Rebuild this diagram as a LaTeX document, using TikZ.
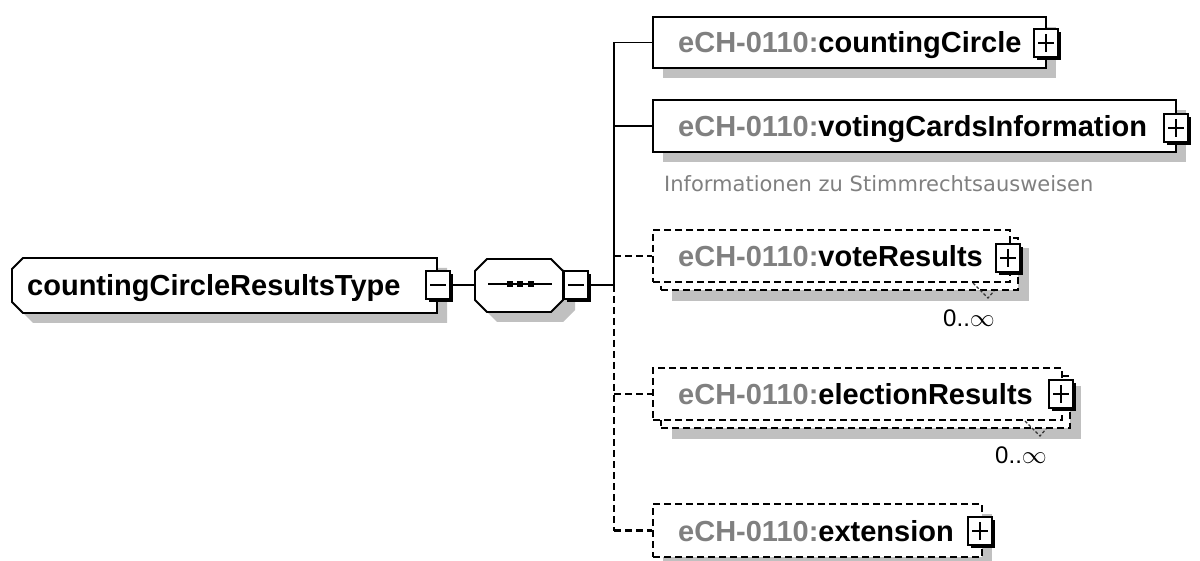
\documentclass[tikz,border=0pt]{standalone}
\usepackage{fontspec}
\setmainfont{Liberation Sans}
\newfontfamily\descfont{DejaVu Sans}
\definecolor{shadowgray}{RGB}{192,192,192}
\definecolor{prefixgray}{RGB}{128,128,128}
\definecolor{desccol}{RGB}{128,128,128}
\newcommand\xpbox[4]{%
  \fill[black] ({#2-12+3},{#3-14+3}) rectangle ({#2+12+3},{#3+14+3});
  \node[xb] (#1) at (#2,#3) {};
  \draw[xsign] ({#2-8},#3) -- ({#2+8},#3);
  \ifnum#4=1 \draw[xsign] (#2,{#3-9}) -- (#2,{#3+9});\fi
}
\begin{document}
\begin{tikzpicture}[x=1pt,y=-1pt,
  shad/.style={fill=shadowgray,draw=none},
  elem/.style={draw=black,line width=1.8pt,fill=white,rectangle,inner sep=0pt},
  optelem/.style={elem,line width=2.1pt,dash pattern=on 7pt off 4pt},
  conn/.style={draw=black,line width=1.8pt,line join=miter},
  optconn/.style={conn,line width=2.1pt,dash pattern=on 7pt off 4pt},
  xb/.style={draw=black,line width=1.6pt,fill=white,rectangle,minimum width=24pt,minimum height=28pt,inner sep=0pt},
  xsign/.style={draw=black,line width=1.5pt},
  lab/.style={anchor=base west,inner sep=0pt,font=\fontsize{29}{29}\selectfont\bfseries,text=black},
  occ/.style={anchor=base east,inner sep=0pt,font=\fontsize{24}{24}\selectfont,text=black},
  desc/.style={anchor=base west,inner sep=0pt,font=\descfont\fontsize{21}{21}\selectfont,text=desccol},
  notch/.style={draw=black!80,line width=1.2pt,dash pattern=on 3pt off 2pt}
]
\useasboundingbox (0,0) rectangle (1200,561);
\fill[white] (0,0) rectangle (1200,561);

% ---------- root element ----------
\fill[shad] (33,268) -- (447,268) -- (447,323) -- (33,323) -- (22,312) -- (22,279) -- cycle;
\draw[line width=1.8pt,fill=white] (23,258) -- (437,258) -- (437,313) -- (23,313) -- (12,302) -- (12,269) -- cycle;
\node[lab] (root) at (27,296) {countingCircleResultsType};
\xpbox{rootm}{438}{285}{0}

% ---------- sequence compositor ----------
\fill[shad] (497,269) -- (563,269) -- (575,281) -- (575,310) -- (563,322) -- (497,322) -- (485,310) -- (485,281) -- cycle;
\draw[line width=1.8pt,fill=white] (487,259) -- (551,259) -- (563,271) -- (563,300) -- (551,312) -- (487,312) -- (475,300) -- (475,271) -- cycle;
\coordinate (seqw) at (475,285);
\draw[line width=1.6pt] (488,284) -- (552,284);
\fill[black] (507,281) rectangle (513,287);
\fill[black] (517,281) rectangle (523,287);
\fill[black] (528,281) rectangle (534,287);
\xpbox{seqm}{576}{285}{0}
\draw[conn] (rootm.east) -- (seqw);

% ---------- trunk ----------
\coordinate (trunk) at (614,285);
\coordinate (t1) at (614,42.5);
\coordinate (t2) at (614,126);
\coordinate (t3) at (614,256);
\coordinate (t4) at (614,394);
\coordinate (t5) at (614,530.5);
\draw[conn] (seqm.east) -- (trunk);
\draw[optconn] (trunk) -- (t5);

% ---------- countingCircle ----------
\fill[shad] (663,27) rectangle (1056,78);
\node[elem,minimum width=393pt,minimum height=51pt] (cc) at (849.5,42.5) {};
\node[lab] (cclab) at (678,53) {\textcolor{prefixgray}{eCH-0110:}countingCircle};
\xpbox{ccx}{1046}{43}{1}
\draw[conn] (cc.west) -- (t1) -- (trunk);

% ---------- votingCardsInformation ----------
\fill[shad] (663,110) rectangle (1186,162);
\node[elem,minimum width=523pt,minimum height=52pt] (vci) at (914.5,126) {};
\node[lab] (vcilab) at (678,136.5) {\textcolor{prefixgray}{eCH-0110:}votingCardsInformation};
\xpbox{vcix}{1176}{128}{1}
\draw[conn] (t2) -- (vci.west);
\node[desc] (vcidesc) at (664,192) {Informationen zu Stimmrechtsausweisen};

% ---------- voteResults ----------
\fill[shad] (672,248) rectangle (1029,301);
\node[optelem,minimum width=357pt,minimum height=52pt] (vrb) at (839.5,264) {};
\node[optelem,minimum width=357pt,minimum height=52pt] (vr) at (831.5,256) {};
\node[lab] (vrlab) at (678,266.5) {\textcolor{prefixgray}{eCH-0110:}voteResults};
\xpbox{vrx}{1008}{258}{1}
\draw[optconn] (t3) -- (vr.west);
\draw[notch] (973,283) -- (988,298) -- (994,291);
\node[occ] (vrocc) at (995,327) {0..$\infty$};

% ---------- electionResults ----------
\fill[shad] (672,386) rectangle (1081,439);
\node[optelem,minimum width=409pt,minimum height=52pt] (erb) at (865.5,402) {};
\node[optelem,minimum width=409pt,minimum height=52pt] (er) at (857.5,394) {};
\node[lab] (erlab) at (678,404.5) {\textcolor{prefixgray}{eCH-0110:}electionResults};
\xpbox{erx}{1061}{394}{1}
\draw[optconn] (t4) -- (er.west);
\draw[notch] (1025,421) -- (1040,436) -- (1046,429);
\node[occ] (erocc) at (1047,463) {0..$\infty$};

% ---------- extension ----------
\fill[shad] (663,514) rectangle (992,567);
\node[optelem,minimum width=329pt,minimum height=53pt] (ext) at (817.5,530.5) {};
\node[lab] (extlab) at (678,541) {\textcolor{prefixgray}{eCH-0110:}extension};
\xpbox{extx}{980}{531}{1}
\draw[optconn] (t5) -- (ext.west);
\end{tikzpicture}
\end{document}
